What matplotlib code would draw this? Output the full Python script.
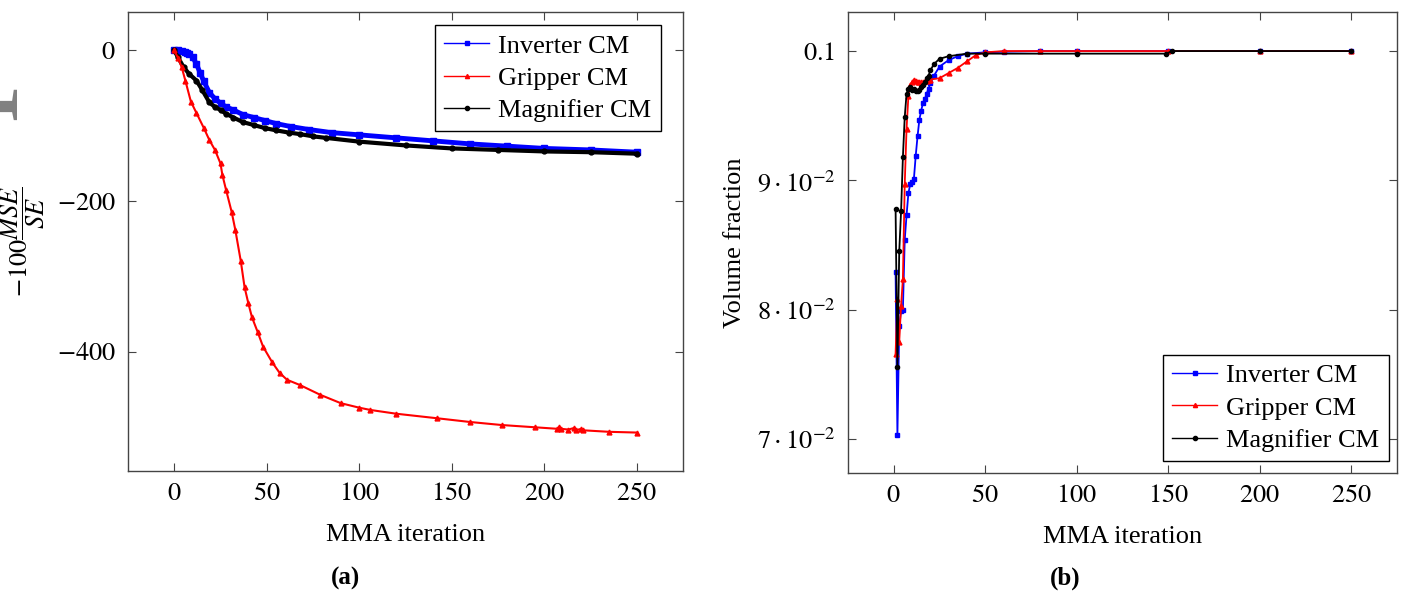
import matplotlib.pyplot as plt
from matplotlib.lines import Line2D

plt.rcParams['font.family'] = ['Liberation Serif', 'DejaVu Serif']
plt.rcParams['mathtext.fontset'] = 'stix'
plt.rcParams['font.size'] = 19

# ---------------- (a) objective history ----------------
inv_a_it = [0, 2, 4, 6, 7, 8, 10, 12, 14, 16, 19, 22, 25, 28, 32, 37, 43, 49, 55, 63, 73, 85,
            100, 120, 140, 160, 180, 200, 225, 250]
inv_a_val = [0, 0, -1, -2, -3, -5, -9, -18, -30, -41, -56, -64, -70, -75, -79, -85, -89, -93,
             -97, -101, -105, -109, -112, -116, -120, -124, -127, -130, -132, -135]

grip_a_it = [0, 2, 4, 6, 9, 12, 16, 19, 22, 25, 26, 28, 31, 33, 36, 38, 40, 42, 45, 48, 53, 57,
             61, 68, 79, 90, 100, 106, 120, 142, 160, 177, 195, 207, 208, 209, 213, 216, 217,
             220, 221, 235, 250]
grip_a_val = [0, -10, -22, -40, -68, -83, -103, -119, -132, -150, -165, -185, -214, -238, -280,
              -314, -335, -354, -373, -393, -414, -428, -437, -444, -457, -468, -474, -477, -482,
              -488, -493, -497, -500, -502, -500, -502, -503, -501, -504, -502, -504, -506, -507]

mag_a_it = [0, 2, 5, 8, 12, 15, 19, 22, 25, 28, 32, 37, 43, 49, 55, 62, 68, 75, 82, 100, 125,
            150, 175, 200, 225, 250]
mag_a_val = [0, -9, -22, -31, -40, -52, -69, -75, -79, -84, -89, -95, -99, -103, -106, -109,
             -111, -114, -116, -121, -126, -130, -132, -134, -135, -137]

# ---------------- (b) volume fraction ----------------
inv_b_it = list(range(1, 21)) + [22, 25, 30, 35, 40, 50, 60, 80, 100, 150, 200, 250]
inv_b_val = [0.0829, 0.0703, 0.0787, 0.0799, 0.0800, 0.0854, 0.0873, 0.0890, 0.0897, 0.0899,
             0.0901, 0.0919, 0.0934, 0.0947, 0.0954, 0.0960, 0.0963, 0.0967, 0.0971, 0.0975,
             0.0981, 0.0988, 0.0993, 0.0996, 0.0998, 0.0999, 0.09995, 0.1, 0.1, 0.1, 0.1, 0.1]

grip_b_it = list(range(1, 21)) + [25, 30, 35, 40, 45, 50, 60, 80, 100, 150, 200, 250]
grip_b_val = [0.0766, 0.0808, 0.0775, 0.0803, 0.0824, 0.0897, 0.0940, 0.0965, 0.0974, 0.0976,
              0.0978, 0.0977, 0.0976, 0.0976, 0.0976, 0.0976, 0.0977, 0.0977, 0.0978, 0.0978,
              0.0979, 0.0983, 0.0987, 0.0992, 0.0997, 0.0999, 0.1, 0.1, 0.1, 0.1, 0.1, 0.1]

mag_b_it = list(range(1, 21)) + [22, 25, 30, 40, 50, 100, 149, 152, 200, 250]
mag_b_val = [0.0878, 0.0756, 0.0845, 0.0876, 0.0918, 0.0949, 0.0967, 0.0971, 0.0972, 0.0970,
             0.0971, 0.0969, 0.0969, 0.0970, 0.0972, 0.0974, 0.0976, 0.0979, 0.0981, 0.0985,
             0.0990, 0.0994, 0.0996, 0.0998, 0.0998, 0.0998, 0.0998, 0.1, 0.1, 0.1]

labels = ['Inverter CM', 'Gripper CM', 'Magnifier CM']
colors = ['#0000ff', '#ff0000', '#000000']
markers = ['s', '^', 'o']

fig = plt.figure(figsize=(14.11, 5.96), dpi=100)

# grey watermark, mostly outside the left edge
fig.text(-12 / 1411, -200 / 596, 'Journal Pre-proof', rotation=90, rotation_mode='anchor',
         ha='left', va='baseline', fontsize=100, color='#808080',
         family='Liberation Serif', zorder=0)

ax1 = fig.add_axes([128 / 1411, 125 / 596, 555 / 1411, 459 / 596])
ax2 = fig.add_axes([848 / 1411, 123 / 596, 549 / 1411, 461 / 596])

ax1.plot(inv_a_it, inv_a_val, color=colors[0], lw=3.5, marker='s', ms=4.5, zorder=3)
ax1.plot(grip_a_it, grip_a_val, color=colors[1], lw=1.5, marker='^', ms=3.5, zorder=4)
ax1.plot(mag_a_it, mag_a_val, color=colors[2], lw=3, marker='o', ms=3.5, zorder=3)

ax2.plot(inv_b_it, inv_b_val, color=colors[0], lw=1.3, marker='s', ms=3.5, zorder=3)
ax2.plot(grip_b_it, grip_b_val, color=colors[1], lw=1.3, marker='^', ms=3.5, zorder=4)
ax2.plot(mag_b_it, mag_b_val, color=colors[2], lw=1.3, marker='o', ms=3, zorder=5)

handles = [Line2D([], [], color=c, lw=1, marker=m, ms=3) for c, m in zip(colors, markers)]
leg_kw = dict(fontsize=19, frameon=True, fancybox=False, edgecolor='black', framealpha=1,
              handlelength=1.7, handletextpad=0.35, borderpad=0.35, labelspacing=0.33,
              borderaxespad=0)

for ax in (ax1, ax2):
    ax.set_xlim(-25, 275)
    ax.set_xticks([0, 50, 100, 150, 200, 250])
    ax.set_xticklabels(['$0$', '$50$', '$100$', '$150$', '$200$', '$250$'])
    ax.tick_params(direction='in', length=6, top=True, right=True, width=0.8,
                   color='#444444', pad=9, labelsize=19)
    for s in ax.spines.values():
        s.set_color('#444444')
        s.set_linewidth(1.0)
    ax.set_xlabel('MMA iteration', fontsize=19, labelpad=13)

ax1.set_ylim(-558, 51)
ax1.set_yticks([0, -200, -400])
ax1.set_yticklabels(['$0$', '$-200$', '$-400$'])
ax1.set_ylabel(r'$-100\dfrac{MSE}{SE}$', fontsize=19)
ax1.yaxis.set_label_coords(-0.146, 0.5)
ax1.legend(handles, labels, loc='upper right', bbox_to_anchor=(0.960, 0.972), **leg_kw)

ax2.set_ylim(0.06737, 0.10302)
ax2.set_yticks([0.07, 0.08, 0.09, 0.1])
ax2.set_yticklabels([r'$7\cdot10^{-2}$', r'$8\cdot10^{-2}$', r'$9\cdot10^{-2}$', '$0.1$'])
ax2.set_ylabel('Volume fraction', fontsize=19)
ax2.yaxis.set_label_coords(-0.185, 0.5)
ax2.legend(handles, labels, loc='lower right', bbox_to_anchor=(0.985, 0.026), **leg_kw)

fig.text(345 / 1411, 18 / 596, '(a)', ha='center', va='center', fontsize=18, fontweight='bold')
fig.text(1065 / 1411, 18 / 596, '(b)', ha='center', va='center', fontsize=18, fontweight='bold')

fig.savefig('out.png', dpi=100)
